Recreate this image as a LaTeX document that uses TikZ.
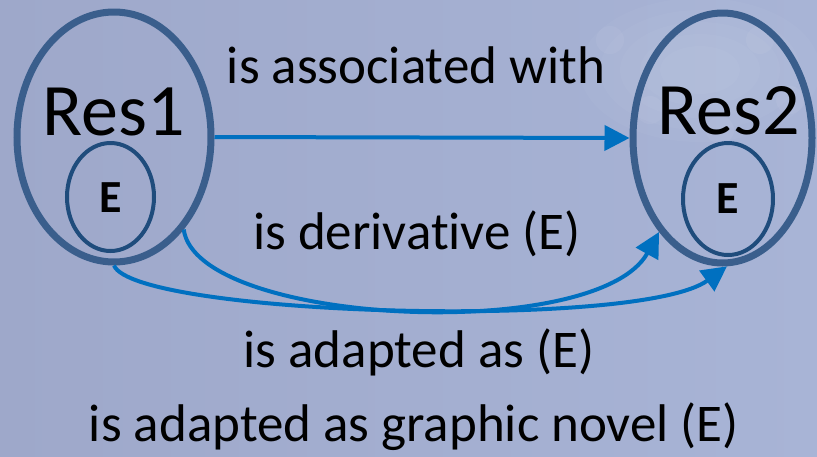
\documentclass[tikz,border=0pt]{standalone}
\usepackage{fontspec}
\setmainfont[Ligatures=NoCommon]{Carlito}
\usetikzlibrary{shapes.geometric,arrows.meta}
\definecolor{bgL}{RGB}{158,168,202}
\definecolor{bgR}{RGB}{168,180,214}
\definecolor{outerc}{RGB}{58,94,140}
\definecolor{innerc}{RGB}{31,76,124}
\definecolor{arrowc}{RGB}{0,112,192}
\begin{document}
\begin{tikzpicture}[x=1pt,y=-1pt,
  outerell/.style={ellipse, draw=outerc, line width=7pt, inner sep=0pt},
  innerell/.style={ellipse, draw=innerc, line width=4pt, inner sep=0pt},
  reslabel/.style={font=\fontsize{74}{74}\selectfont, anchor=base, inner sep=0pt},
  elabel/.style={font=\fontsize{46}{46}\selectfont\bfseries, anchor=base, inner sep=0pt},
  rel/.style={font=\fontsize{53}{53}\selectfont, anchor=base, inner sep=0pt},
  conn/.style={draw=arrowc, line width=4pt, -{Triangle[length=25pt,width=25pt]}}]
\fill[left color=bgL, right color=bgR] (0,0) rectangle (817,456);
\useasboundingbox (0,0) rectangle (817,456);
% faint snowflake glow
\foreach \r in {120,100,80,60,40}
  \fill[white, opacity=0.03] (700,70) ellipse ({\r pt} and {0.6*\r pt});
\foreach \p in {(610,40),(650,110),(760,40),(720,130),(790,100)}
  \fill[white, opacity=0.05] \p circle (14pt);
% nodes
\node[outerell, minimum width=194pt, minimum height=250pt] (res1) at (114,137) {};
\node[outerell, minimum width=179pt, minimum height=250pt] (res2) at (722.5,138) {};
\node[innerell, minimum width=87pt, minimum height=108pt] (e1) at (110.5,197) {};
\node[innerell, minimum width=90pt, minimum height=112pt] (e2) at (728,199) {};
\node[reslabel] (t1) at (113.5,135) {Res1};
\node[reslabel] (t2) at (728.5,134) {Res2};
\node[elabel] (et1) at (111,212.5) {E};
\node[elabel] (et2) at (727.5,213.5) {E};
\node[rel] (l1) at (416,83) {is associated with};
\node[rel] (l2) at (417,249) {is derivative (E)};
\node[rel] (l3) at (419,367) {is adapted as (E)};
\node[rel] (l4) at (414,441) {is adapted as graphic novel (E)};
% connectors
\draw[conn] (res1.-53) .. controls +(13,96) and +(-62,112) .. (res2.-124);
\draw[conn] (res1.south) .. controls +(21,50) and +(-88,64) .. (res2.-88);
\draw[conn] (res1.east) -- (res2.west);
\end{tikzpicture}
\end{document}
